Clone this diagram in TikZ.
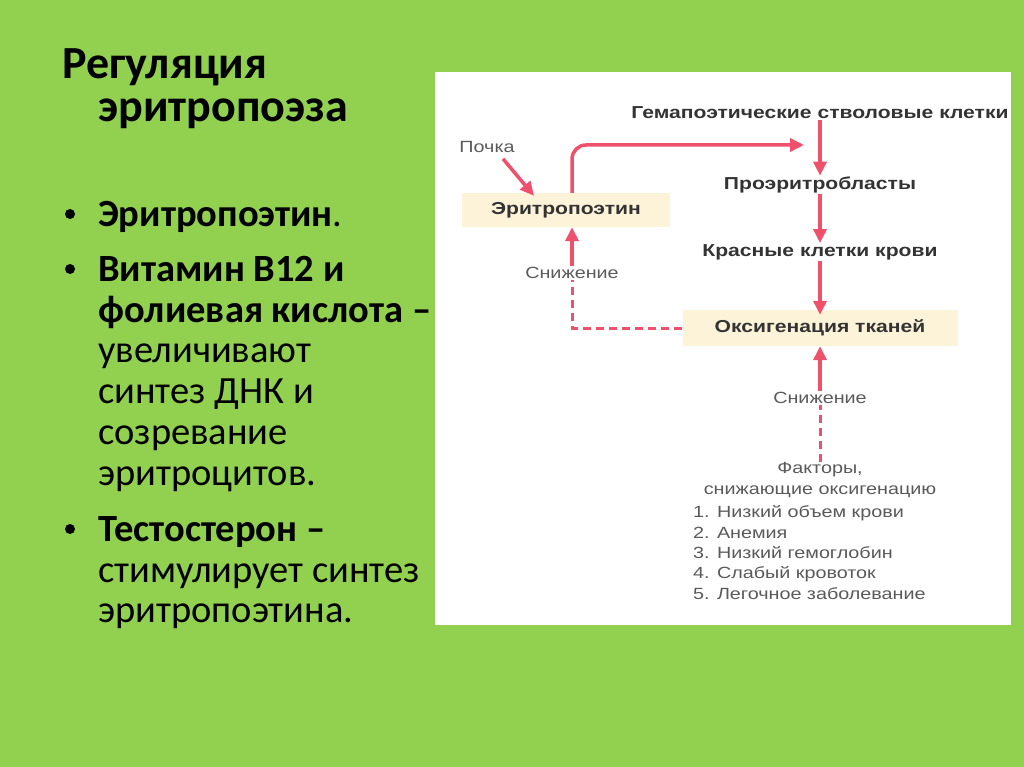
\documentclass[tikz,border=0pt]{standalone}
\usepackage{fontspec}
\setmainfont{Carlito}
\newfontfamily\dgfont[FakeStretch=1.22]{Liberation Sans}
\usetikzlibrary{arrows.meta}
\definecolor{slidegreen}{HTML}{92D050}
\definecolor{arrred}{HTML}{EF506C}
\definecolor{cream}{HTML}{FCF3D8}
\definecolor{dgdark}{HTML}{333333}
\definecolor{dggray}{HTML}{5A5A5A}
\tikzset{
  ttl/.style={anchor=base west, inner sep=0pt, font=\fontsize{46}{52}\selectfont\bfseries},
  bl/.style={anchor=base west, inner sep=0pt, font=\fontsize{38.5}{44}\selectfont\bfseries},
  rl/.style={anchor=base west, inner sep=0pt, font=\fontsize{38.5}{44}\selectfont},
  dot/.style={circle, fill=black, inner sep=0pt, minimum size=10pt},
  dgb/.style={font=\dgfont\fontsize{17.3}{20}\selectfont\bfseries, text=dgdark, inner sep=1pt},
  dgr/.style={font=\dgfont\fontsize{16.2}{19}\selectfont, text=dggray, inner sep=1pt},
  boxn/.style={dgb, fill=cream},
  arr/.style={draw=arrred, line width=3.5pt, -{Triangle[length=14pt,width=13pt]}},
  dsh/.style={draw=arrred, line width=3pt, dash pattern=on 8pt off 5pt},
}
\begin{document}
\begin{tikzpicture}[x=1pt,y=-1pt]
\fill[slidegreen] (0,0) rectangle (1024,767);
\useasboundingbox (0,0) rectangle (1024,767);
\fill[white] (435,72) rectangle (1011,625);

% left text
\node[ttl] (t1) at (62,79) {Регуляция};
\node[ttl] (t2) at (98,122) {эритропоэза};
\node[dot] (b1) at (70,214) {};
\node[bl] (l1) at (98,226) {Эритропоэтин\textmd{.}};
\node[dot] (b2) at (70,269) {};
\node[bl] (l2) at (98,281) {Витамин B12 и};
\node[bl] (l3) at (98,322) {фолиевая кислота –};
\node[rl] (l4) at (98,362) {увеличивают};
\node[rl] (l5) at (98,403) {синтез ДНК и};
\node[rl] (l6) at (98,444) {созревание};
\node[rl] (l7) at (98,485) {эритроцитов.};
\node[dot] (b3) at (70,529) {};
\node[bl] (l8) at (98,541) {Тестостерон –};
\node[rl] (l9) at (98,582) {стимулирует синтез};
\node[rl] (l10) at (98,622) {эритропоэтина.};

% diagram
\node[dgb] (hsc) at (820,113) {Гемапоэтические стволовые клетки};
\node[dgr] (kid) at (487,147) {Почка};
\node[boxn, minimum width=208pt, minimum height=34pt] (epo) at (566,210) {Эритропоэтин};
\node[dgb] (pro) at (820,185) {Проэритробласты};
\node[dgb] (rbc) at (820,252) {Красные клетки крови};
\node[boxn, minimum width=275pt, minimum height=36pt] (oks) at (820,328) {Оксигенация тканей};
\node[dgr] (snl) at (572,273) {Снижение};
\node[dgr] (snr) at (820,398) {Снижение};
\node[dgr] (f1) at (820,470) {Факторы,};
\node[dgr] (f2) at (820,492) {снижающие оксигенацию};
\node[dgr, anchor=west] (f3) at (692,513) {1. Низкий объем крови};
\node[dgr, anchor=west] (f4) at (692,533) {2. Анемия};
\node[dgr, anchor=west] (f5) at (692,553) {3. Низкий гемоглобин};
\node[dgr, anchor=west] (f6) at (692,574) {4. Слабый кровоток};
\node[dgr, anchor=west] (f7) at (692,594) {5. Легочное заболевание};
\coordinate (hscin) at (804,145);

\draw[arr] ([xshift=16pt,yshift=-5pt]kid.south) -- ([xshift=-32pt,yshift=-3pt]epo.north);
\draw[arr, rounded corners=14pt] (epo.north -| snl) |- (hscin);
\draw[arr] (hsc.south) -- (pro.north);
\draw[arr] (pro.south) -- (rbc.north);
\draw[arr] (rbc.south) -- ([yshift=-5pt]oks.north);
\draw[arr] (snr.north) -- (oks.south);
\draw[dsh] (f1.north) -- (snr.south);
\draw[dsh] (oks.west) -| (snl.south);
\draw[arr] (snl.north) -- (epo.south -| snl);
\end{tikzpicture}
\end{document}
